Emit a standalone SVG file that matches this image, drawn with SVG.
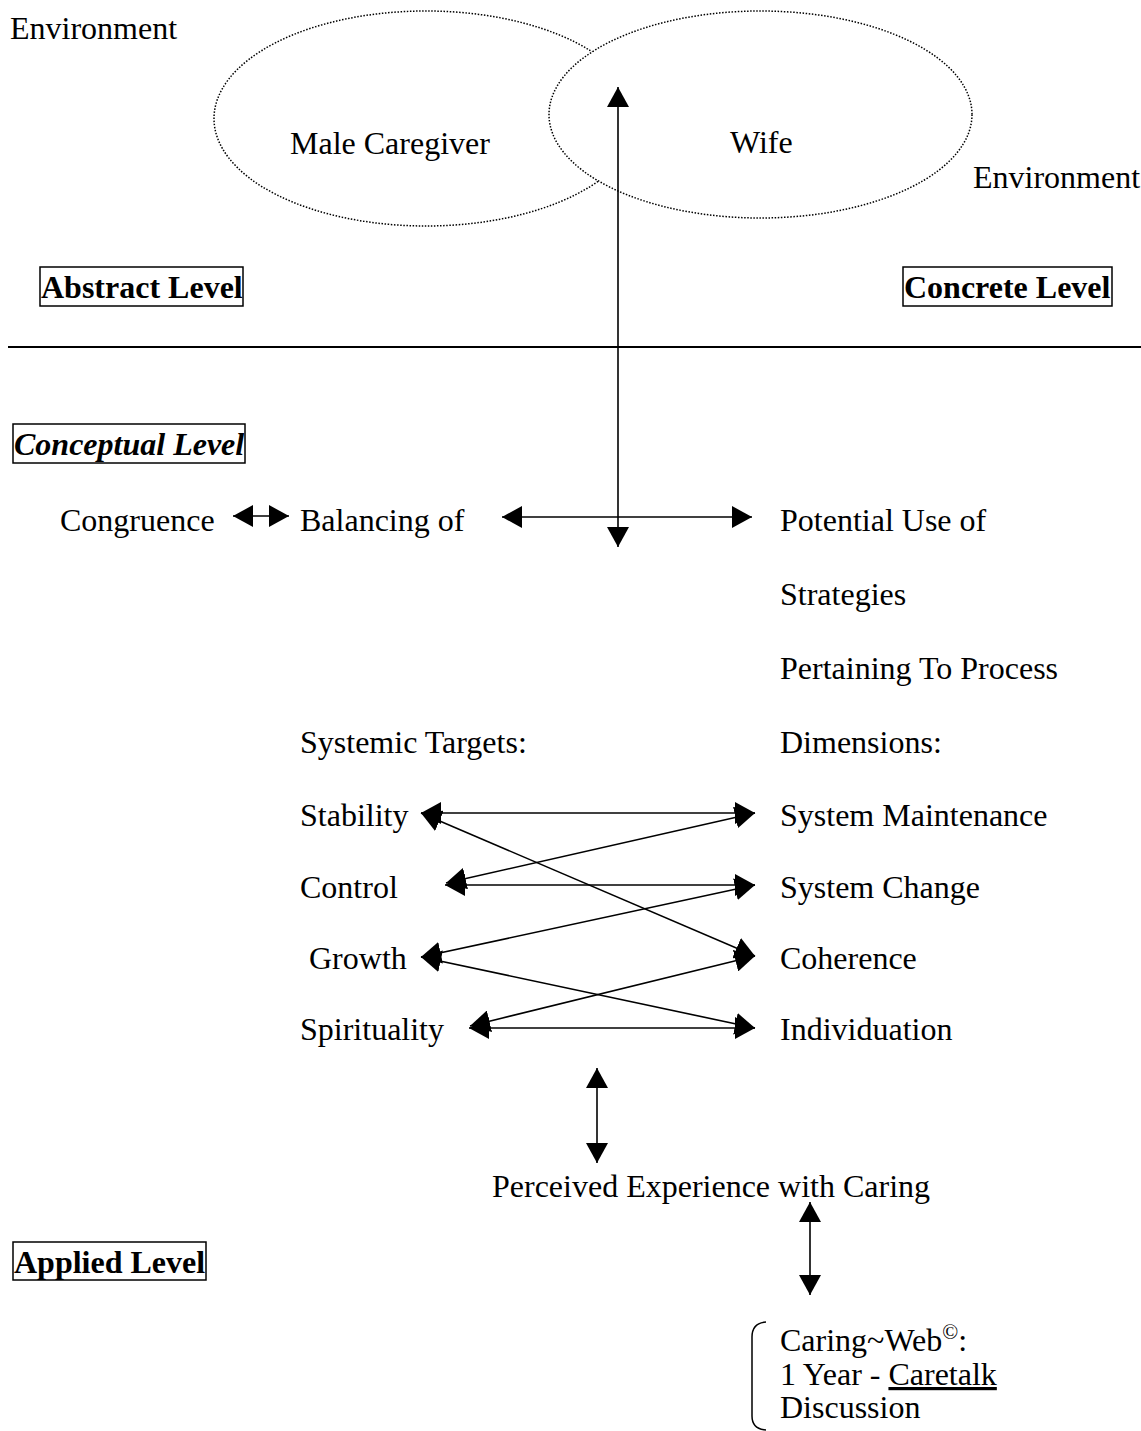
<svg xmlns="http://www.w3.org/2000/svg" width="1141" height="1431" viewBox="0 0 1141 1431">
<style>
text{font-family:"Liberation Serif","Times New Roman",serif;font-size:32px;fill:#000}
.b{font-weight:bold}
.bi{font-weight:bold;font-style:italic}
.box{fill:none;stroke:#000;stroke-width:1.5}
.ell{fill:#fff;stroke:#000;stroke-width:1.5;stroke-dasharray:1.5 1.6}
.con{stroke:#000;stroke-width:1.6;fill:none;marker-end:url(#ah);marker-start:url(#ah)}
</style>
<defs>
<marker id="ah" markerUnits="userSpaceOnUse" markerWidth="21" markerHeight="22" refX="20" refY="11" orient="auto-start-reverse" viewBox="0 0 21 22">
<path d="M0,0 L20,11 L0,22 z" fill="#000"/>
</marker>
</defs>
<rect width="1141" height="1431" fill="#fff"/>
<g id="env-left"><text x="10" y="39">Environment</text></g>
<g id="male-caregiver"><ellipse class="ell" cx="426" cy="118.5" rx="212" ry="107.5"/><text x="290" y="154">Male Caregiver</text></g>
<g id="wife"><ellipse class="ell" cx="760.5" cy="114.5" rx="211.5" ry="103.5"/><text x="730" y="153">Wife</text></g>
<g id="env-right"><text x="973" y="188">Environment</text></g>
<g id="abstract-level"><rect class="box" x="40" y="267" width="203" height="39"/><text class="b" x="41" y="298">Abstract Level</text></g>
<g id="concrete-level"><rect class="box" x="903" y="267" width="209" height="39"/><text class="b" x="904" y="298">Concrete Level</text></g>
<g id="divider"><line x1="8" y1="347" x2="1141" y2="347" stroke="#000" stroke-width="2"/></g>
<g id="conceptual-level"><rect class="box" x="13" y="424" width="232" height="39"/><text class="bi" x="14" y="455">Conceptual Level</text></g>
<g id="congruence"><text x="60" y="531">Congruence</text></g>
<g id="balancing"><text x="300" y="531">Balancing of</text></g>
<g id="potential"><text x="780" y="531">Potential Use of</text><text x="780" y="605">Strategies</text><text x="780" y="679">Pertaining To Process</text><text x="780" y="753">Dimensions:</text></g>
<g id="systemic-targets"><text x="300" y="753">Systemic Targets:</text></g>
<g id="stability"><text x="300" y="826">Stability</text></g>
<g id="control"><text x="300" y="898">Control</text></g>
<g id="growth"><text x="309" y="969">Growth</text></g>
<g id="spirituality"><text x="300" y="1040">Spirituality</text></g>
<g id="system-maintenance"><text x="780" y="826">System Maintenance</text></g>
<g id="system-change"><text x="780" y="898">System Change</text></g>
<g id="coherence"><text x="780" y="969">Coherence</text></g>
<g id="individuation"><text x="780" y="1040">Individuation</text></g>
<g id="perceived"><text x="492" y="1197">Perceived Experience with Caring</text></g>
<g id="applied-level"><rect class="box" x="13" y="1242" width="193" height="38"/><text class="b" x="14" y="1273">Applied Level</text></g>
<g id="caring-web">
<path d="M766,1322 Q752,1323 752,1337 L752,1416 Q752,1429 766,1430" fill="none" stroke="#000" stroke-width="1.5"/>
<text x="780" y="1351">Caring~Web<tspan font-size="21" dy="-12">©</tspan><tspan dy="12">:</tspan></text>
<text x="780" y="1385">1 Year - <tspan text-decoration="underline">Caretalk</tspan></text>
<text x="780" y="1418">Discussion</text>
</g>
<g id="connectors">
<line class="con" x1="618" y1="87" x2="618" y2="547"/>
<line class="con" x1="502" y1="517" x2="752" y2="517"/>
<line class="con" x1="233" y1="516" x2="289" y2="516"/>
<line class="con" x1="421" y1="813" x2="755" y2="813"/>
<line class="con" x1="445" y1="885" x2="755" y2="885"/>
<line class="con" x1="469" y1="1028" x2="755" y2="1028"/>
<line class="con" x1="421" y1="813" x2="755" y2="956"/>
<line class="con" x1="446" y1="883" x2="755" y2="813"/>
<line class="con" x1="421" y1="957" x2="755" y2="885"/>
<line class="con" x1="421" y1="957" x2="755" y2="1028"/>
<line class="con" x1="470" y1="1026" x2="755" y2="956"/>
<line class="con" x1="597" y1="1068" x2="597" y2="1163"/>
<line class="con" x1="810" y1="1202" x2="810" y2="1295"/>
</g>
</svg>
